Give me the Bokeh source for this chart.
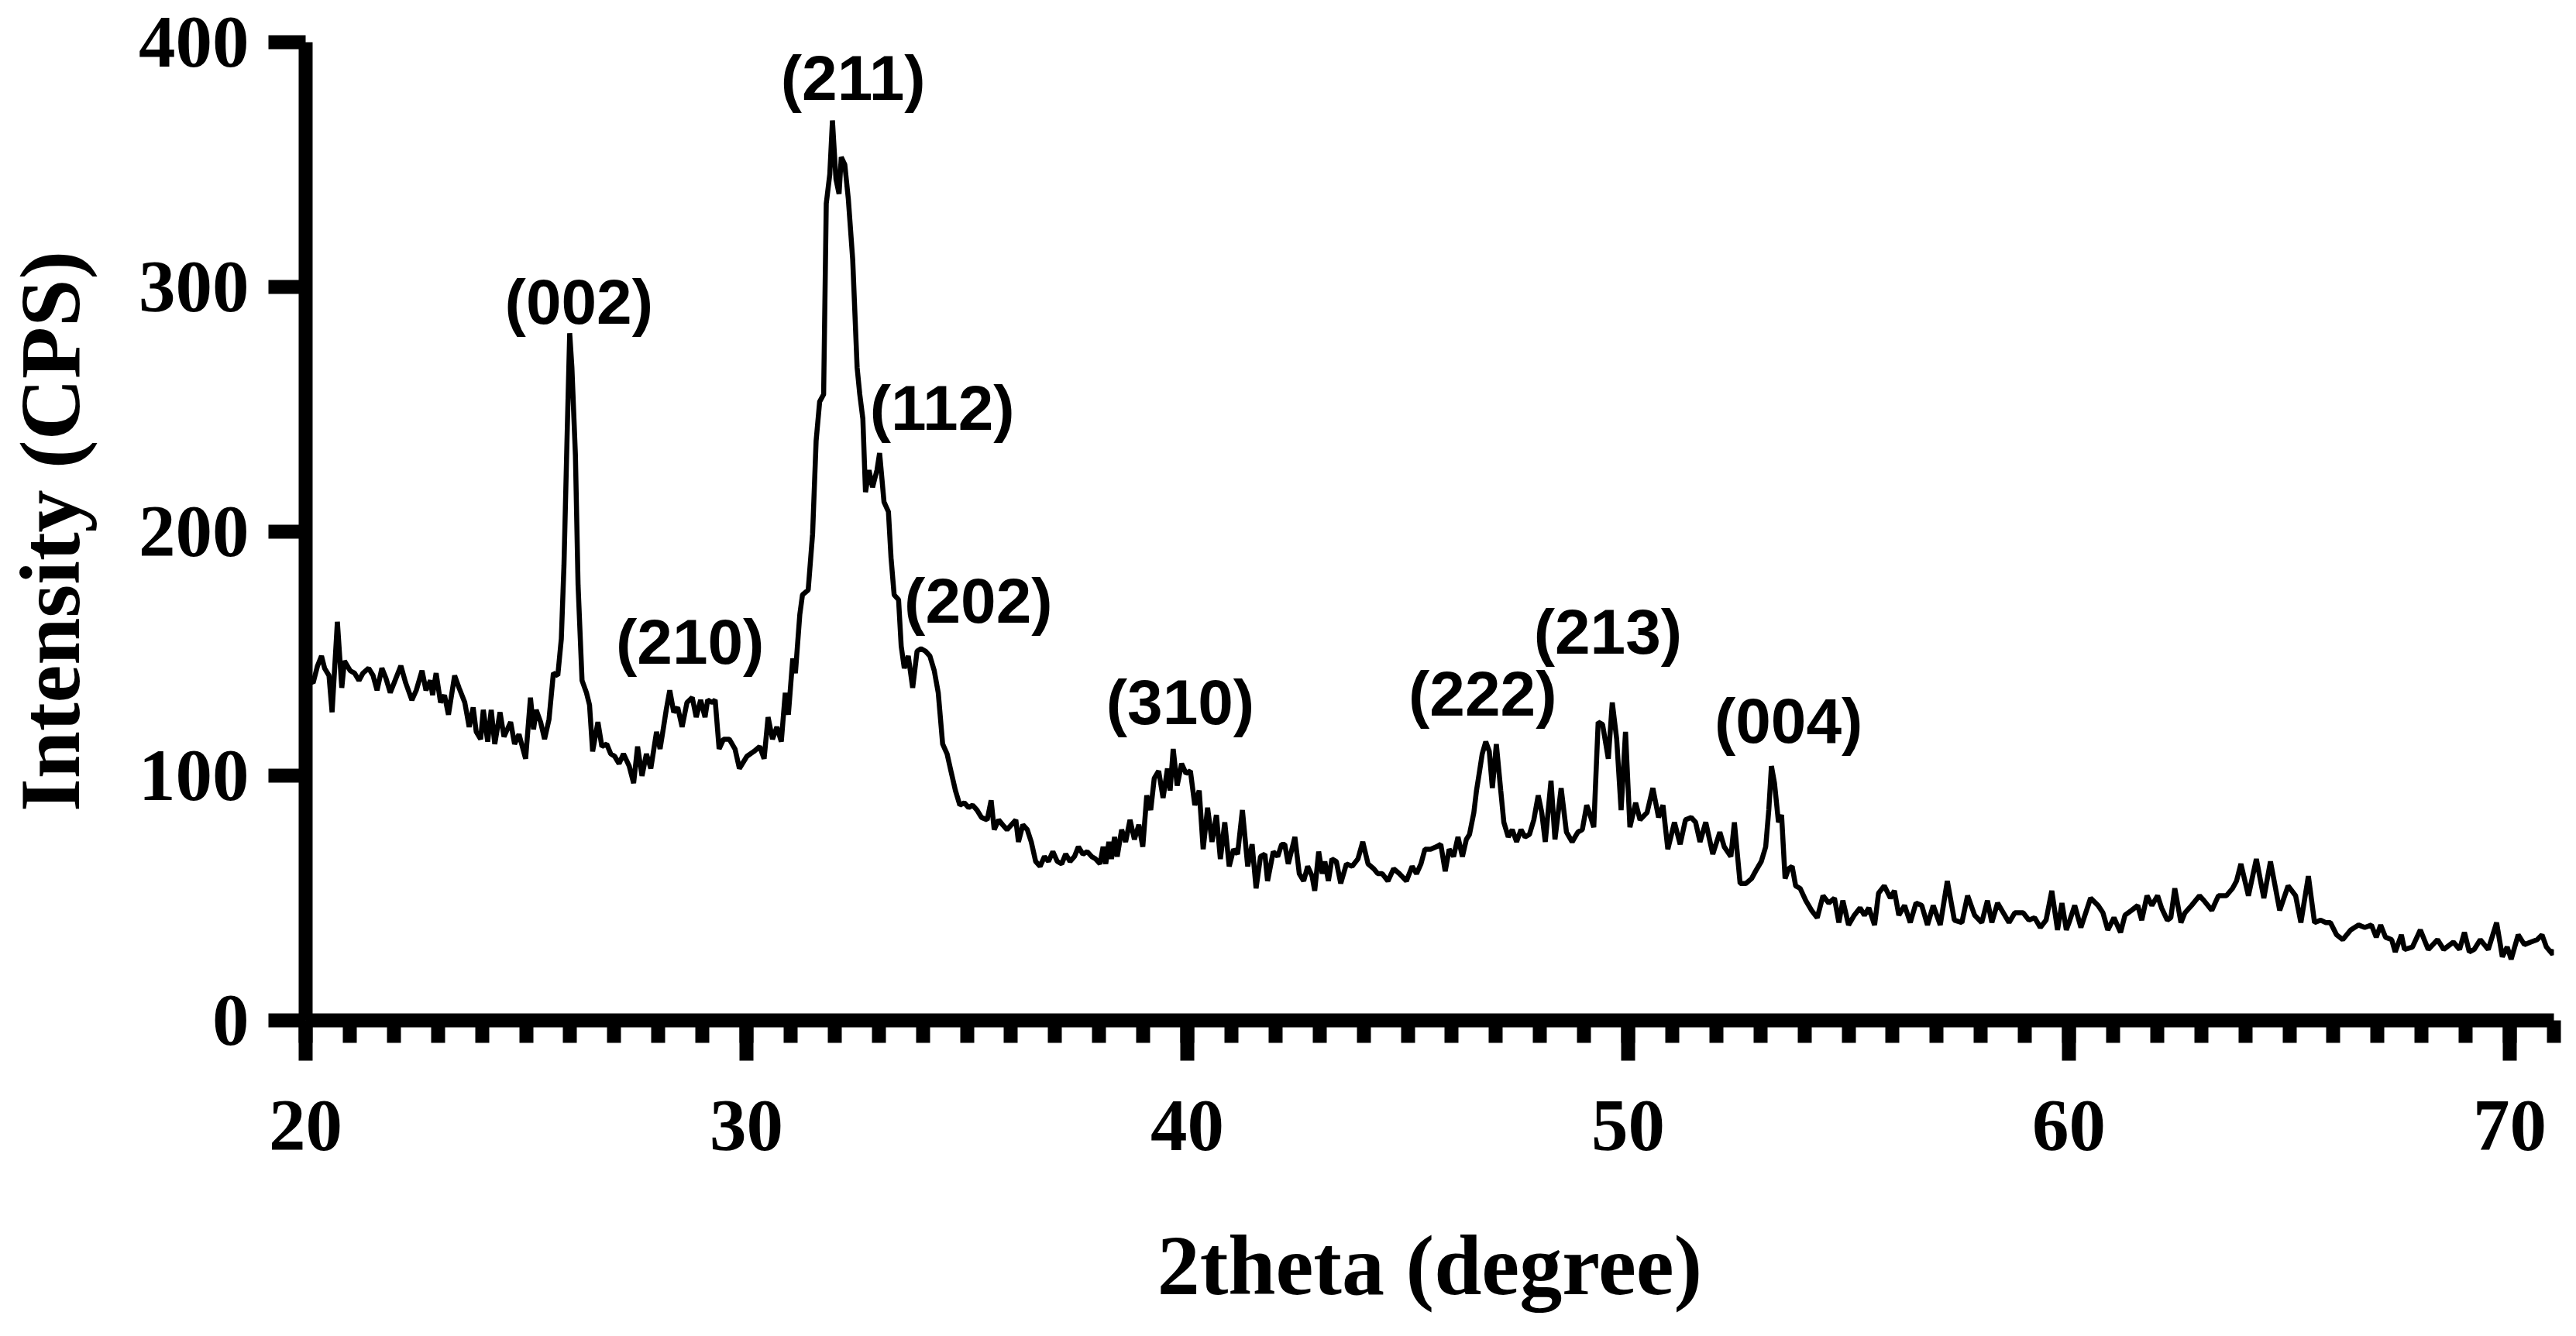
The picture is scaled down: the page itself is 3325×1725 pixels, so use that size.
from bokeh.plotting import figure
from bokeh.models import Range1d, SingleIntervalTicker, FixedTicker, ColumnDataSource, LabelSet
from bokeh.core.properties import value
from bokeh.embed import file_html
from bokeh.resources import INLINE

# ---- XRD pattern (2theta in degree, intensity in CPS) ----
theta_a = [20.0, 20.17, 20.27, 20.36, 20.43, 20.53, 20.60, 20.72, 20.82, 20.88,
           21.01, 21.11, 21.21, 21.30, 21.43, 21.53, 21.62, 21.73, 21.82, 21.92,
           22.05, 22.16, 22.27, 22.41, 22.51, 22.64, 22.73, 22.83, 22.88, 22.96,
           23.06, 23.15, 23.24, 23.38, 23.48, 23.61, 23.71, 23.80, 23.87, 23.97,
           24.03, 24.13, 24.21, 24.29, 24.41, 24.50, 24.65, 24.74, 24.84, 24.99,
           25.10, 25.17, 25.23, 25.33, 25.42, 25.52, 25.62, 25.72, 25.80, 25.86,
           25.93, 25.99, 26.04, 26.12, 26.18, 26.27, 26.37, 26.44, 26.51, 26.63,
           26.72, 26.83, 26.92, 27.01, 27.11, 27.21, 27.34, 27.44, 27.53, 27.63,
           27.73, 27.83, 27.96, 28.04, 28.12, 28.18, 28.26, 28.35, 28.44, 28.54,
           28.65, 28.77, 28.86, 28.96, 29.06, 29.12, 29.22, 29.29, 29.38, 29.48,
           29.61, 29.74, 29.84]
cps_a = [140, 138, 145, 149, 144, 141, 126, 163, 136, 147,
         143, 142, 139, 142, 144, 141, 135, 144, 140, 134,
         140, 145, 138, 131, 135, 143, 135, 139, 133, 142,
         130, 133, 125, 141, 136, 130, 120, 128, 118, 115,
         127, 114, 127, 113, 126, 116, 122, 113, 117, 107,
         132, 119, 127, 122, 115, 123, 142, 141, 156, 186,
         238, 281, 267, 231, 178, 139, 134, 129, 110, 122,
         112, 113, 109, 108, 105, 109, 104, 97, 112, 100,
         109, 103, 118, 111, 120, 127, 135, 126, 128, 120,
         130, 132, 124, 131, 124, 131, 130, 131, 111, 115,
         115, 111, 103]

theta_b = [30.01, 30.17, 30.30, 30.40, 30.49, 30.59, 30.69, 30.79, 30.88, 30.95,
           31.05, 31.11, 31.21, 31.27, 31.40, 31.50, 31.58, 31.66, 31.75, 31.81,
           31.89, 31.95, 32.03, 32.10, 32.15, 32.23, 32.31, 32.41, 32.51, 32.57,
           32.64, 32.70, 32.78, 32.86, 32.96, 33.02, 33.12, 33.22, 33.28, 33.35,
           33.45, 33.51, 33.58, 33.67, 33.77, 33.87, 33.96, 34.06, 34.16, 34.26,
           34.35, 34.45, 34.55, 34.65, 34.74, 34.84, 34.94, 35.04, 35.13, 35.23,
           35.33, 35.46, 35.55, 35.62, 35.72, 35.81, 35.91, 36.01, 36.11, 36.17,
           36.27, 36.37, 36.46, 36.56, 36.66, 36.76, 36.85, 36.95, 37.05, 37.15,
           37.24, 37.34, 37.44, 37.53, 37.63, 37.73, 37.83, 37.92, 38.02, 38.09,
           38.15, 38.22, 38.28, 38.35, 38.41, 38.51, 38.60, 38.70, 38.80, 38.90,
           38.99, 39.08, 39.17, 39.25, 39.35, 39.45, 39.55, 39.61, 39.68, 39.77,
           39.87]
cps_b = [108, 110, 112, 107, 124, 115, 120, 114, 134, 125,
         148, 142, 166, 174, 176, 199, 237, 253, 256, 334,
         346, 368, 344, 338, 353, 350, 336, 311, 267, 256,
         246, 216, 225, 218, 225, 232, 212, 208, 189, 174,
         172, 153, 144, 149, 136, 151, 152, 151, 149, 143,
         134, 113, 109, 101, 94, 88, 89, 87, 88, 86,
         83, 82, 90, 78, 82, 80, 78, 80, 82, 73,
         80, 78, 73, 65, 63, 67, 65, 69, 65, 64,
         68, 65, 67, 71, 68, 69, 67, 66, 64, 71,
         64, 73, 66, 75, 67, 78, 73, 82, 74, 80,
         71, 92, 86, 99, 102, 91, 103, 94, 111, 96,
         105]

theta_c = [39.97, 40.07, 40.17, 40.27, 40.36, 40.46, 40.56, 40.66, 40.75, 40.85,
           40.95, 41.05, 41.14, 41.25, 41.37, 41.47, 41.56, 41.66, 41.76, 41.82,
           41.95, 42.05, 42.14, 42.21, 42.29, 42.44, 42.54, 42.64, 42.73, 42.83,
           42.89, 42.98, 43.06, 43.12, 43.20, 43.28, 43.38, 43.48, 43.61, 43.74,
           43.87, 43.98, 44.10, 44.23, 44.32, 44.42, 44.55, 44.68, 44.81, 44.97,
           45.10, 45.20, 45.30, 45.39, 45.52, 45.65, 45.75, 45.85, 45.94, 46.04,
           46.14, 46.24, 46.33, 46.40, 46.50, 46.56, 46.63, 46.69, 46.77, 46.85,
           46.92, 47.01, 47.11, 47.18, 47.28, 47.37, 47.47, 47.57, 47.66, 47.76,
           47.86, 47.96, 48.04, 48.12, 48.25, 48.34, 48.48, 48.60, 48.73, 48.86,
           48.96, 49.06, 49.12, 49.22, 49.32, 49.42, 49.55, 49.64, 49.74, 49.84,
           49.94]
cps_c = [101, 102, 88, 94, 70, 87, 73, 84, 66, 81,
         63, 70, 68, 86, 63, 72, 54, 67, 68, 57,
         69, 67, 72, 72, 64, 75, 60, 57, 63, 59,
         53, 69, 60, 65, 57, 66, 65, 56, 64, 63,
         66, 73, 64, 62, 60, 60, 57, 62, 60, 57,
         63, 60, 64, 70, 70, 71, 72, 61, 70, 67,
         75, 67, 74, 76, 85, 94, 102, 109, 114, 110,
         95, 113, 94, 81, 75, 78, 73, 78, 75, 76,
         82, 92, 85, 73, 98, 74, 95, 77, 73, 77,
         78, 88, 85, 79, 122, 121, 107, 130, 115, 86,
         118]

theta_d = [50.04, 50.17, 50.27, 50.43, 50.56, 50.69, 50.79, 50.90, 51.05, 51.18,
           51.30, 51.43, 51.53, 51.63, 51.76, 51.92, 52.08, 52.18, 52.33, 52.41,
           52.54, 52.67, 52.80, 52.89, 53.02, 53.12, 53.19, 53.25, 53.32, 53.41,
           53.48, 53.56, 53.64, 53.72, 53.80, 53.90, 54.03, 54.16, 54.29, 54.42,
           54.55, 54.68, 54.78, 54.87, 55.00, 55.13, 55.26, 55.36, 55.46, 55.59,
           55.68, 55.81, 55.95, 56.04, 56.14, 56.27, 56.40, 56.53, 56.66, 56.79,
           56.92, 57.08, 57.24, 57.40, 57.57, 57.70, 57.86, 58.02, 58.15, 58.25,
           58.38, 58.51, 58.64, 58.77, 58.96, 59.09, 59.22, 59.35, 59.48, 59.61,
           59.74, 59.84, 59.94]
cps_d = [79, 89, 82, 85, 95, 83, 88, 70, 81, 72,
         82, 83, 81, 73, 81, 68, 77, 71, 67, 81,
         56, 56, 58, 61, 65, 71, 86, 104, 97, 81,
         84, 58, 62, 63, 55, 54, 49, 45, 42, 51,
         48, 50, 40, 49, 39, 43, 46, 43, 46, 39,
         52, 55, 50, 53, 43, 47, 40, 48, 47, 39,
         47, 39, 57, 41, 40, 51, 43, 40, 49, 40,
         48, 44, 40, 44, 44, 41, 42, 38, 41, 53,
         37, 48, 37]

theta_e = [60.02, 60.13, 60.27, 60.49, 60.66, 60.77, 60.88, 61.02, 61.17, 61.27,
           61.42, 61.56, 61.65, 61.77, 61.88, 62.01, 62.10, 62.23, 62.31, 62.40,
           62.54, 62.63, 62.78, 62.96, 63.06, 63.24, 63.39, 63.57, 63.71, 63.80,
           63.90, 64.07, 64.25, 64.42, 64.57, 64.78, 64.97, 65.14, 65.26, 65.43,
           65.57, 65.71, 65.82, 65.93, 66.07, 66.21, 66.39, 66.57, 66.71, 66.86,
           66.97, 67.07, 67.18, 67.32, 67.40, 67.54, 67.61, 67.79, 67.97, 68.15,
           68.36, 68.50, 68.72, 68.86, 68.97, 69.08, 69.19, 69.33, 69.51, 69.70,
           69.83, 69.94, 70.03, 70.19, 70.33, 70.47, 70.62, 70.73, 70.83, 70.97,
           71.0]
cps_e = [41, 47, 38, 50, 47, 44, 37, 42, 36, 43,
         45, 47, 41, 51, 47, 51, 46, 41, 42, 54,
         40, 44, 47, 51, 49, 45, 51, 51, 54, 57,
         64, 51, 66, 50, 65, 45, 55, 51, 40, 59,
         40, 41, 40, 40, 35, 33, 37, 39, 38, 39,
         34, 39, 34, 33, 28, 35, 29, 30, 37, 29,
         33, 29, 32, 29, 36, 28, 29, 33, 29, 40,
         26, 30, 25, 35, 31, 32, 33, 35, 30, 27,
         29]

# ---- peak (hkl) annotations ----
peak_labels = ["(002)", "(210)", "(211)", "(112)", "(202)", "(310)", "(222)", "(213)", "(004)"]
peak_label_x = [26.2, 28.72, 32.42, 34.44, 35.26, 39.84, 46.70, 49.54, 53.64]
peak_label_y = [285, 146, 376.5, 241.6, 162.7, 121, 124.5, 150, 113.6]

# ---- axes ----
x_ticks_major = 10
y_ticks = [0, 100, 200, 300, 400]

theta = []
cps = []
for t_seg, c_seg in [(theta_a, cps_a), (theta_b, cps_b), (theta_c, cps_c),
                     (theta_d, cps_d), (theta_e, cps_e)]:
    for t, c in zip(t_seg, c_seg):
        theta.append(t)
        cps.append(c)

p = figure(width=3310, height=1710,
           x_range=Range1d(20, 71), y_range=Range1d(0, 400),
           output_backend="svg", toolbar_location=None,
           min_border_left=389, min_border_right=14,
           min_border_top=54, min_border_bottom=393)
p.grid.visible = False
p.outline_line_color = None
p.background_fill_color = "white"
p.border_fill_color = "white"

p.line(theta, cps, line_color="black", line_width=6.5)

src = ColumnDataSource(dict(x=peak_label_x, y=peak_label_y, t=peak_labels))
p.add_layout(LabelSet(x="x", y="y", text="t", source=src,
                      text_font=value("Liberation Sans"), text_font_style="bold",
                      text_font_size="82px", text_color="black",
                      text_align="center", text_baseline="alphabetic"))

xa = p.xaxis[0]
ya = p.yaxis[0]
xa.ticker = SingleIntervalTicker(interval=x_ticks_major, num_minor_ticks=10)
ya.ticker = FixedTicker(ticks=y_ticks)

for ax in (xa, ya):
    ax.axis_line_width = 18
    ax.axis_line_color = "black"
    ax.major_tick_line_width = 18
    ax.major_tick_line_color = "black"
    ax.major_tick_in = 0
    ax.major_label_text_font = "Liberation Serif"
    ax.major_label_text_font_style = "bold"
    ax.major_label_text_font_size = "95px"
    ax.major_label_text_color = "black"
    ax.axis_label_text_font = "Liberation Serif"
    ax.axis_label_text_font_style = "bold"
    ax.axis_label_text_font_size = "110px"
    ax.axis_label_text_color = "black"

xa.major_tick_out = 52
xa.minor_tick_out = 29
xa.minor_tick_in = 0
xa.minor_tick_line_width = 18
xa.minor_tick_line_color = "black"
xa.major_label_standoff = 52
xa.axis_label = "2theta (degree)"
xa.axis_label_standoff = 85

ya.major_tick_out = 48
ya.minor_tick_line_color = None
ya.major_label_standoff = 25
ya.axis_label = "Intensity (CPS)"
ya.axis_label_standoff = 50

open("out.html", "w").write(file_html(p, INLINE))
